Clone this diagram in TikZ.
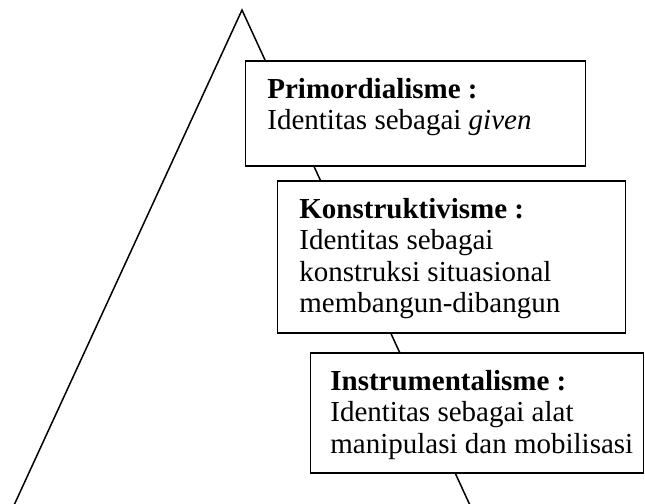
\documentclass[tikz,border=0pt]{standalone}
\usepackage{fontspec}
\setmainfont{Liberation Serif}

\begin{document}
\begin{tikzpicture}[x=0.5pt, y=-0.5pt,
  garis/.style={line width=0.75pt},
  kotak/.style={draw, line width=0.75pt, fill=white, anchor=north west, inner sep=0pt},
  isi/.style={anchor=north west, inner sep=0pt, align=left, font=\fontsize{14.5pt}{15.65pt}\selectfont}]
  \useasboundingbox (0,0) rectangle (645,504);
  \clip (0,0) rectangle (645,504);

  % Segitiga
  \coordinate (puncak) at (242,10);
  \coordinate (kiri) at (-2,540);
  \coordinate (kanan) at (486,540);
  \draw[garis] (kiri) -- (puncak) -- (kanan);

  % Primordialisme
  \node[kotak, minimum width=170pt, minimum height=52.5pt] (prim) at (245,60) {};
  \node[isi] (primteks) at ([shift={(22,18)}]prim.north west)
    {\textbf{Primordialisme :}\\Identitas sebagai \textit{given}};

  % Konstruktivisme
  \node[kotak, minimum width=174pt, minimum height=76pt] (kons) at (277,180) {};
  \node[isi] (konsteks) at ([shift={(22,18)}]kons.north west)
    {\textbf{Konstruktivisme :}\\Identitas sebagai\\konstruksi situasional\\membangun-dibangun};

  % Instrumentalisme
  \node[kotak, minimum width=166.5pt, minimum height=60pt] (inst) at (310,352) {};
  \node[isi] (insteks) at ([shift={(20,18)}]inst.north west)
    {\textbf{Instrumentalisme :}\\Identitas sebagai alat\\manipulasi dan mobilisasi};
\end{tikzpicture}
\end{document}
